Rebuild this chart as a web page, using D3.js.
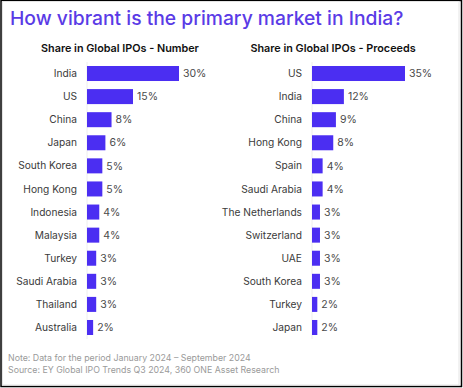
<!DOCTYPE html>
<html>
<head>
<meta charset="utf-8">
<script src="https://cdn.jsdelivr.net/npm/d3@7"></script>
<style>
  body { margin: 0; background: #fff; }
  svg { display: block; font-family: Inter, "Noto Sans", sans-serif; }
  .title { fill: #5a3be6; font-size: 19.3px; font-weight: 500; }
  .subtitle { fill: #111; font-size: 10.8px; font-weight: 600; }
  .cat { fill: #3a3a3a; font-size: 10.2px; }
  .val { fill: #4a4a4a; font-size: 10.5px; }
  .note { fill: #9a9a9a; font-size: 8.8px; }
</style>
</head>
<body>
<svg width="463" height="388"></svg>
<script>
// **** Data ****
var numberCountries = ['India','US','China','Japan','South Korea','Hong Kong','Indonesia','Malaysia','Turkey','Saudi Arabia','Thailand','Australia'];
var numberShares = [30, 15, 8, 6, 5, 5, 4, 4, 3, 3, 3, 2];

var proceedsCountries = ['US','India','China','Hong Kong','Spain','Saudi Arabia','The Netherlands','Switzerland','UAE','South Korea','Turkey','Japan'];
var proceedsShares = [35, 12, 9, 8, 4, 4, 3, 3, 3, 3, 2, 2];

var barColor = '#4b2ef2';

var svg = d3.select('svg');

// frame
svg.append('rect')
    .attr('x', 1).attr('y', 0.5).attr('width', 460.5).attr('height', 386)
    .attr('fill', 'none').attr('stroke', '#000').attr('stroke-width', 1.5);
svg.append('rect')
    .attr('x', 2.5).attr('y', 1.5).attr('width', 456.5).attr('height', 383.5)
    .attr('fill', 'none').attr('stroke', '#e4e4e4').attr('stroke-width', 1);

//title
svg.append('text')
    .attr('class', 'title')
    .attr('x', 10).attr('y', 25)
    .text('How vibrant is the primary market in India?');

// **** one panel ****
function drawPanel(cats, vals, opts) {
    var x = d3.scaleLinear().domain([0, opts.max]).range([opts.x0, opts.x1]);
    var y = d3.scaleBand().domain(cats).range([66, 335]).paddingInner(0.35).paddingOuter(0);

    var g = svg.append('g');

    g.append('text')
        .attr('class', 'subtitle')
        .attr('x', opts.titleX).attr('y', 52)
        .attr('text-anchor', 'middle')
        .text(opts.title);

    // faint baseline
    g.append('line')
        .attr('x1', x(0)).attr('x2', x(0))
        .attr('y1', 62).attr('y2', 339)
        .attr('stroke', '#eeeeee');

    var rows = g.selectAll('.row')
        .data(cats)
        .enter()
        .append('g')
        .attr('class', 'row')
        .attr('transform', function(d) { return 'translate(0,' + y(d) + ')'; });

    rows.append('rect')
        .attr('x', x(0))
        .attr('width', function(d, i) { return x(vals[i]) - x(0); })
        .attr('height', y.bandwidth())
        .attr('fill', barColor);

    rows.append('text')
        .attr('class', 'cat')
        .attr('x', x(0) - 10)
        .attr('y', y.bandwidth() / 2)
        .attr('dy', '0.35em')
        .attr('text-anchor', 'end')
        .text(function(d) { return d; });

    rows.append('text')
        .attr('class', 'val')
        .attr('x', function(d, i) { return x(vals[i]) + 4; })
        .attr('y', y.bandwidth() / 2)
        .attr('dy', '0.35em')
        .text(function(d, i) { return vals[i] + '%'; });
}

drawPanel(numberCountries, numberShares, {max: 30, x0: 87, x1: 179, titleX: 120, title: 'Share in Global IPOs - Number'});
drawPanel(proceedsCountries, proceedsShares, {max: 35, x0: 312, x1: 405, titleX: 333, title: 'Share in Global IPOs - Proceeds'});

// notes
svg.append('text').attr('class', 'note').attr('x', 8).attr('y', 361)
    .text('Note: Data for the period January 2024 – September 2024');
svg.append('text').attr('class', 'note').attr('x', 8).attr('y', 373)
    .text('Source: EY Global IPO Trends Q3 2024, 360 ONE Asset Research');
</script>
</body>
</html>
